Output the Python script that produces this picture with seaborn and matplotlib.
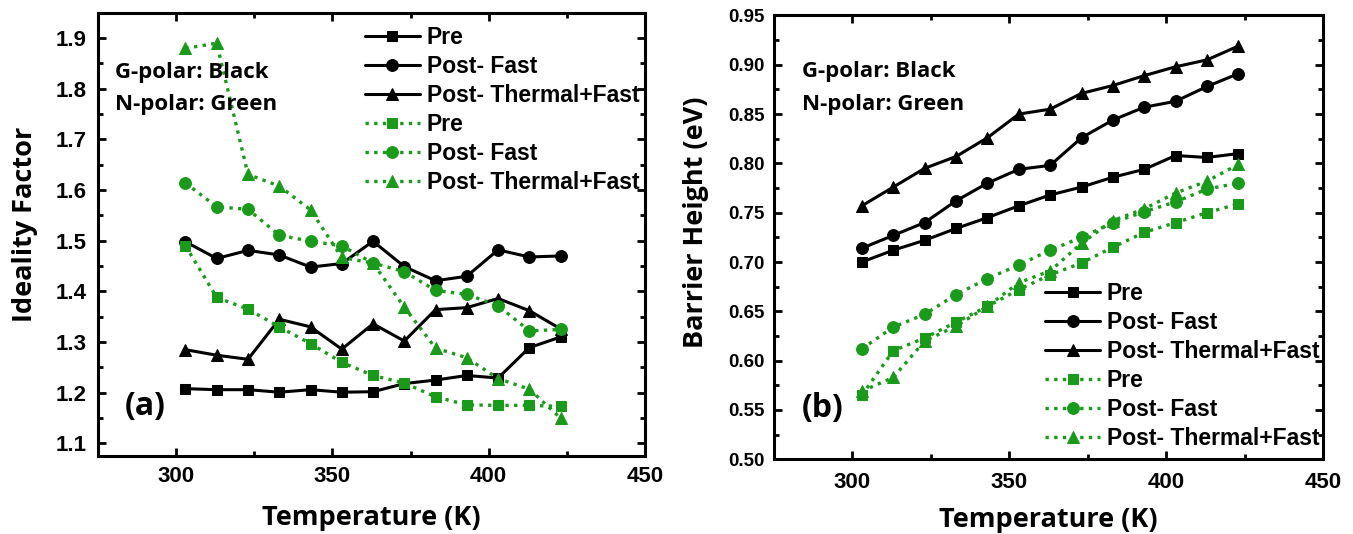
import numpy as np
import pandas as pd
import seaborn as sns
import matplotlib.pyplot as plt
from matplotlib.ticker import MultipleLocator, FormatStrFormatter

# temperatures (K)
temps = [303, 313, 323, 333, 343, 353, 363, 373, 383, 393, 403, 413, 423]

# (a) ideality factor
n_ga_pre = [1.208, 1.206, 1.206, 1.201, 1.206, 1.201, 1.202, 1.218, 1.225, 1.234, 1.229, 1.289, 1.310]
n_ga_fast = [1.498, 1.465, 1.481, 1.472, 1.448, 1.455, 1.499, 1.449, 1.421, 1.430, 1.482, 1.468, 1.470]
n_ga_therm = [1.285, 1.274, 1.266, 1.345, 1.330, 1.286, 1.336, 1.302, 1.364, 1.368, 1.386, 1.362, 1.326]
n_n_pre = [1.490, 1.388, 1.365, 1.330, 1.297, 1.260, 1.234, 1.219, 1.192, 1.176, 1.175, 1.175, 1.173]
n_n_fast = [1.614, 1.567, 1.562, 1.511, 1.499, 1.490, 1.456, 1.439, 1.402, 1.394, 1.372, 1.322, 1.325]
n_n_therm = [1.880, 1.890, 1.631, 1.608, 1.561, 1.467, 1.456, 1.369, 1.288, 1.269, 1.228, 1.207, 1.150]

# (b) barrier height (eV)
b_ga_pre = [0.700, 0.712, 0.722, 0.734, 0.745, 0.757, 0.768, 0.776, 0.786, 0.794, 0.808, 0.806, 0.810]
b_ga_fast = [0.714, 0.727, 0.740, 0.762, 0.780, 0.794, 0.798, 0.826, 0.844, 0.857, 0.863, 0.878, 0.891]
b_ga_therm = [0.757, 0.776, 0.795, 0.807, 0.826, 0.850, 0.855, 0.871, 0.879, 0.889, 0.898, 0.905, 0.919]
b_n_pre = [0.565, 0.610, 0.623, 0.639, 0.655, 0.672, 0.687, 0.699, 0.715, 0.730, 0.740, 0.750, 0.759]
b_n_fast = [0.612, 0.634, 0.647, 0.667, 0.683, 0.697, 0.712, 0.725, 0.740, 0.751, 0.761, 0.774, 0.780]
b_n_therm = [0.569, 0.583, 0.620, 0.635, 0.655, 0.679, 0.691, 0.719, 0.742, 0.754, 0.770, 0.782, 0.799]

labels = ["Pre", "Post- Fast", "Post- Thermal+Fast"]
GREEN = "#1a9a1a"

sns.set_theme(style="ticks")
plt.rcParams["font.family"] = ["Liberation Sans", "DejaVu Sans"]
plt.rcParams["font.weight"] = "bold"
plt.rcParams["text.color"] = "black"
plt.rcParams["axes.labelcolor"] = "black"
plt.rcParams["xtick.color"] = "black"
plt.rcParams["ytick.color"] = "black"

fig = plt.figure(figsize=(13.53, 5.34), dpi=100)
ax1 = fig.add_axes([0.0724, 0.146, 0.4043, 0.830])
ax2 = fig.add_axes([0.5721, 0.140, 0.4058, 0.831])


def draw(ax, black, green):
    marks = ["s", "o", "^"]
    sizes = [7.5, 8.5, 8.5]
    for vals, lab, m, s in zip(black, labels, marks, sizes):
        sns.lineplot(x=temps, y=vals, ax=ax, color="black", marker=m, markersize=s,
                     markeredgecolor="black", linewidth=2.2, label=lab)
    for vals, lab, m, s in zip(green, labels, marks, sizes):
        sns.lineplot(x=temps, y=vals, ax=ax, color=GREEN, marker=m, markersize=s,
                     markeredgecolor=GREEN, linewidth=2.4, linestyle=(0, (1, 1.6)), label=lab)
    ax.set_xlim(275, 450)
    ax.xaxis.set_major_locator(MultipleLocator(50))
    ax.xaxis.set_minor_locator(MultipleLocator(25))
    for sp in ax.spines.values():
        sp.set_linewidth(2.2)
        sp.set_color("black")
    ax.tick_params(which="both", direction="in", top=True, right=True, width=2, colors="black")
    ax.tick_params(which="major", length=6)
    ax.tick_params(which="minor", length=3.5)
    ax.tick_params(axis="x", labelsize=16, pad=7)
    ax.set_xlabel("Temperature (K)", fontsize=19.5, fontweight="bold", family="Open Sans",
                  color="black")


draw(ax1, [n_ga_pre, n_ga_fast, n_ga_therm], [n_n_pre, n_n_fast, n_n_therm])
ax1.set_ylim(1.075, 1.95)
ax1.yaxis.set_major_locator(MultipleLocator(0.1))
ax1.yaxis.set_minor_locator(MultipleLocator(0.05))
ax1.yaxis.set_major_formatter(FormatStrFormatter("%.1f"))
ax1.tick_params(axis="y", labelsize=16, pad=8)
ax1.set_ylabel("Ideality Factor", fontsize=19.5, fontweight="bold", family="Open Sans",
               color="black")
ax1.yaxis.set_label_coords(-0.110, 0.523)
ax1.xaxis.set_label_coords(0.5, -0.111)
ax1.legend(loc="upper left", bbox_to_anchor=(0.488, 0.970), frameon=False, borderpad=0,
           borderaxespad=0, numpoints=1, handlelength=2.4, handletextpad=0.3, labelspacing=0.26,
           prop={"size": 16.5, "weight": "bold"})
ax1.text(0.032, 0.866, "G-polar: Black", transform=ax1.transAxes, fontsize=16,
         fontweight="bold", family="Open Sans", va="center")
ax1.text(0.032, 0.794, "N-polar: Green", transform=ax1.transAxes, fontsize=16,
         fontweight="bold", family="Open Sans", va="center")
ax1.text(0.049, 0.111, "(a)", transform=ax1.transAxes, fontsize=23,
         fontweight="bold", family="Open Sans", va="center")

draw(ax2, [b_ga_pre, b_ga_fast, b_ga_therm], [b_n_pre, b_n_fast, b_n_therm])
ax2.set_ylim(0.50, 0.95)
ax2.yaxis.set_major_locator(MultipleLocator(0.05))
ax2.yaxis.set_minor_locator(MultipleLocator(0.025))
ax2.yaxis.set_major_formatter(FormatStrFormatter("%.2f"))
ax2.tick_params(axis="y", labelsize=13.5, pad=6.5)
ax2.tick_params(axis="x", pad=9)
ax2.set_ylabel("Barrier Height (eV)", fontsize=19.5, fontweight="bold", family="Open Sans",
               color="black")
ax2.yaxis.set_label_coords(-0.118, 0.534)
ax2.xaxis.set_label_coords(0.5, -0.108)
ax2.legend(loc="upper left", bbox_to_anchor=(0.4936, 0.400), frameon=False, borderpad=0,
           borderaxespad=0, numpoints=1, handlelength=2.4, handletextpad=0.3, labelspacing=0.26,
           prop={"size": 16.5, "weight": "bold"})
ax2.text(0.05, 0.874, "G-polar: Black", transform=ax2.transAxes, fontsize=16,
         fontweight="bold", family="Open Sans", va="center")
ax2.text(0.05, 0.800, "N-polar: Green", transform=ax2.transAxes, fontsize=16,
         fontweight="bold", family="Open Sans", va="center")
ax2.text(0.05, 0.115, "(b)", transform=ax2.transAxes, fontsize=23,
         fontweight="bold", family="Open Sans", va="center")

fig.savefig("out.png", dpi=100)
plt.close(fig)
